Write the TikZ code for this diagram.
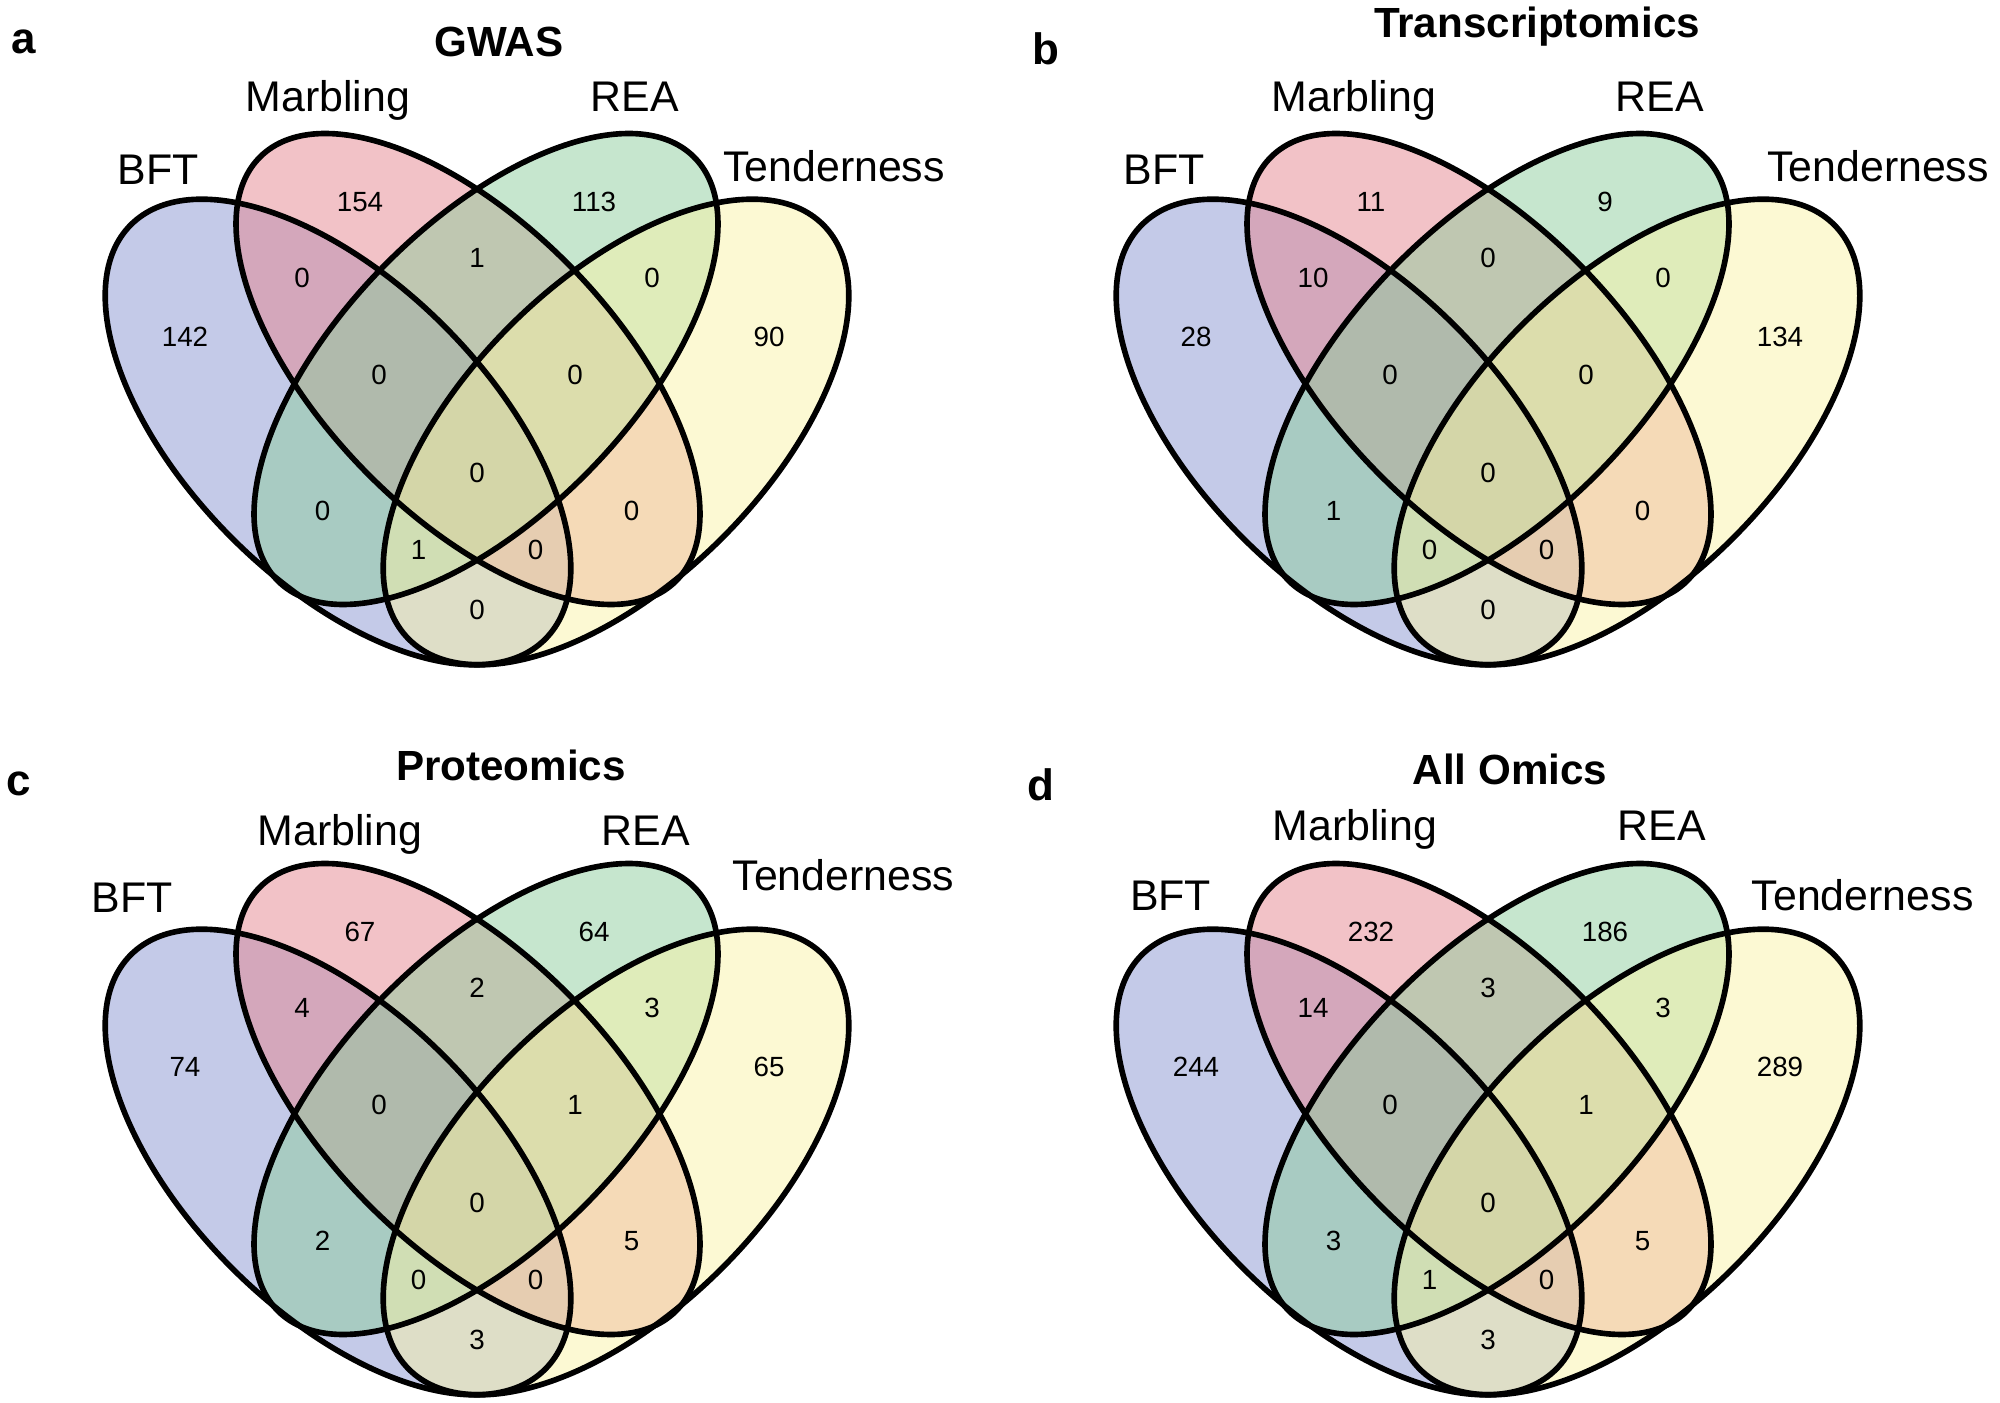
\documentclass[tikz,border=0pt]{standalone}
\usepackage{fontspec}
\setmainfont{Liberation Sans}
\usepackage{tikz}
\definecolor{bftblue}{RGB}{137,149,209}
\definecolor{marbpink}{RGB}{229,133,143}
\definecolor{reagreen}{RGB}{141,205,157}
\definecolor{tendyellow}{RGB}{249,243,167}
\tikzset{
    venn fill/.style={fill opacity=0.5},
    venn line/.style={draw=black, line width=1.6pt},
    num/.style={inner sep=0pt, font=\fontsize{7.9pt}{9pt}\selectfont},
    cat/.style={inner sep=0pt, anchor=base, font=\fontsize{12.2pt}{14pt}\selectfont},
    title/.style={inner sep=0pt, anchor=base, font=\fontsize{12pt}{14pt}\selectfont\bfseries},
    letter/.style={inner sep=0pt, anchor=base, font=\fontsize{12.5pt}{14pt}\selectfont\bfseries},
}
\newcommand{\vennsets}{%
    \foreach \col/\cx/\cy/\ang/\ra/\rb in {bftblue/-1.39/2.33/-45/2.93/1.50, marbpink/-0.09/2.96/-45.7/2.97/1.45,
        reagreen/0.09/2.96/45.7/2.97/1.45, tendyellow/1.39/2.33/45/2.93/1.50}
        \fill[\col, venn fill, rotate around={\ang:(\cx,\cy)}] (\cx,\cy) ellipse (\ra cm and \rb cm);
    \foreach \cx/\cy/\ang/\ra/\rb in {-1.39/2.33/-45/2.93/1.50, 1.39/2.33/45/2.93/1.50,
        -0.09/2.96/-45.7/2.97/1.45, 0.09/2.96/45.7/2.97/1.45}
        \draw[venn line, rotate around={\ang:(\cx,\cy)}] (\cx,\cy) ellipse (\ra cm and \rb cm);
    \coordinate (b) at (-2.92,3.28);
    \coordinate (m) at (-1.17,4.63);
    \coordinate (r) at (1.17,4.63);
    \coordinate (t) at (2.92,3.28);
    \coordinate (bm) at (-1.75,3.87);
    \coordinate (mr) at (0,4.07);
    \coordinate (rt) at (1.75,3.87);
    \coordinate (bmr) at (-0.98,2.90);
    \coordinate (mrt) at (0.98,2.90);
    \coordinate (br) at (-1.545,1.54);
    \coordinate (mt) at (1.545,1.54);
    \coordinate (bmrt) at (0,1.92);
    \coordinate (brt) at (-0.585,1.15);
    \coordinate (bmt) at (0.585,1.15);
    \coordinate (bt) at (0,0.55);
}

\begin{document}
\begin{tikzpicture}
\useasboundingbox (0,0) rectangle (20,14.02);

\begin{scope}[shift={(4.77,7.37)}, name prefix=a-]
    \vennsets
    \foreach \r/\v in {b/142, m/154, r/113, t/90, bm/0, mr/1, rt/0, bmr/0, mrt/0, br/0, mt/0, bmrt/0, brt/1, bmt/0, bt/0}
        \node[num] (n\r) at (\r) {\v};
    \node[letter] (tag) at (-4.53,6.11) {a};
    \node[title] (title) at (0.22,6.08) {GWAS};
    \node[cat] (bft) at (-3.19,4.80) {BFT};
    \node[cat] (marb) at (-1.49,5.534) {Marbling};
    \node[cat] (rea) at (1.58,5.534) {REA};
    \node[cat] (tend) at (3.57,4.83) {Tenderness};
\end{scope}

\begin{scope}[shift={(14.88,7.37)}, name prefix=b-]
    \vennsets
    \foreach \r/\v in {b/28, m/11, r/9, t/134, bm/10, mr/0, rt/0, bmr/0, mrt/0, br/1, mt/0, bmrt/0, brt/0, bmt/0, bt/0}
        \node[num] (n\r) at (\r) {\v};
    \node[letter] (tag) at (-4.42,6.00) {b};
    \node[title] (title) at (0.49,6.27) {Transcriptomics};
    \node[cat] (bft) at (-3.24,4.80) {BFT};
    \node[cat] (marb) at (-1.34,5.534) {Marbling};
    \node[cat] (rea) at (1.72,5.534) {REA};
    \node[cat] (tend) at (3.90,4.83) {Tenderness};
\end{scope}

\begin{scope}[shift={(4.77,0.07)}, name prefix=c-]
    \vennsets
    \foreach \r/\v in {b/74, m/67, r/64, t/65, bm/4, mr/2, rt/3, bmr/0, mrt/1, br/2, mt/5, bmrt/0, brt/0, bmt/0, bt/3}
        \node[num] (n\r) at (\r) {\v};
    \node[letter] (tag) at (-4.58,5.99) {c};
    \node[title] (title) at (0.34,6.144) {Proteomics};
    \node[cat] (bft) at (-3.45,4.823) {BFT};
    \node[cat] (marb) at (-1.37,5.495) {Marbling};
    \node[cat] (rea) at (1.69,5.495) {REA};
    \node[cat] (tend) at (3.665,5.047) {Tenderness};
\end{scope}

\begin{scope}[shift={(14.88,0.07)}, name prefix=d-]
    \vennsets
    \foreach \r/\v in {b/244, m/232, r/186, t/289, bm/14, mr/3, rt/3, bmr/0, mrt/1, br/3, mt/5, bmrt/0, brt/1, bmt/0, bt/3}
        \node[num] (n\r) at (\r) {\v};
    \node[letter] (tag) at (-4.47,5.94) {d};
    \node[title] (title) at (0.22,6.10) {All Omics};
    \node[cat] (bft) at (-3.174,4.846) {BFT};
    \node[cat] (marb) at (-1.33,5.54) {Marbling};
    \node[cat] (rea) at (1.736,5.54) {REA};
    \node[cat] (tend) at (3.746,4.846) {Tenderness};
\end{scope}
\end{tikzpicture}
\end{document}
